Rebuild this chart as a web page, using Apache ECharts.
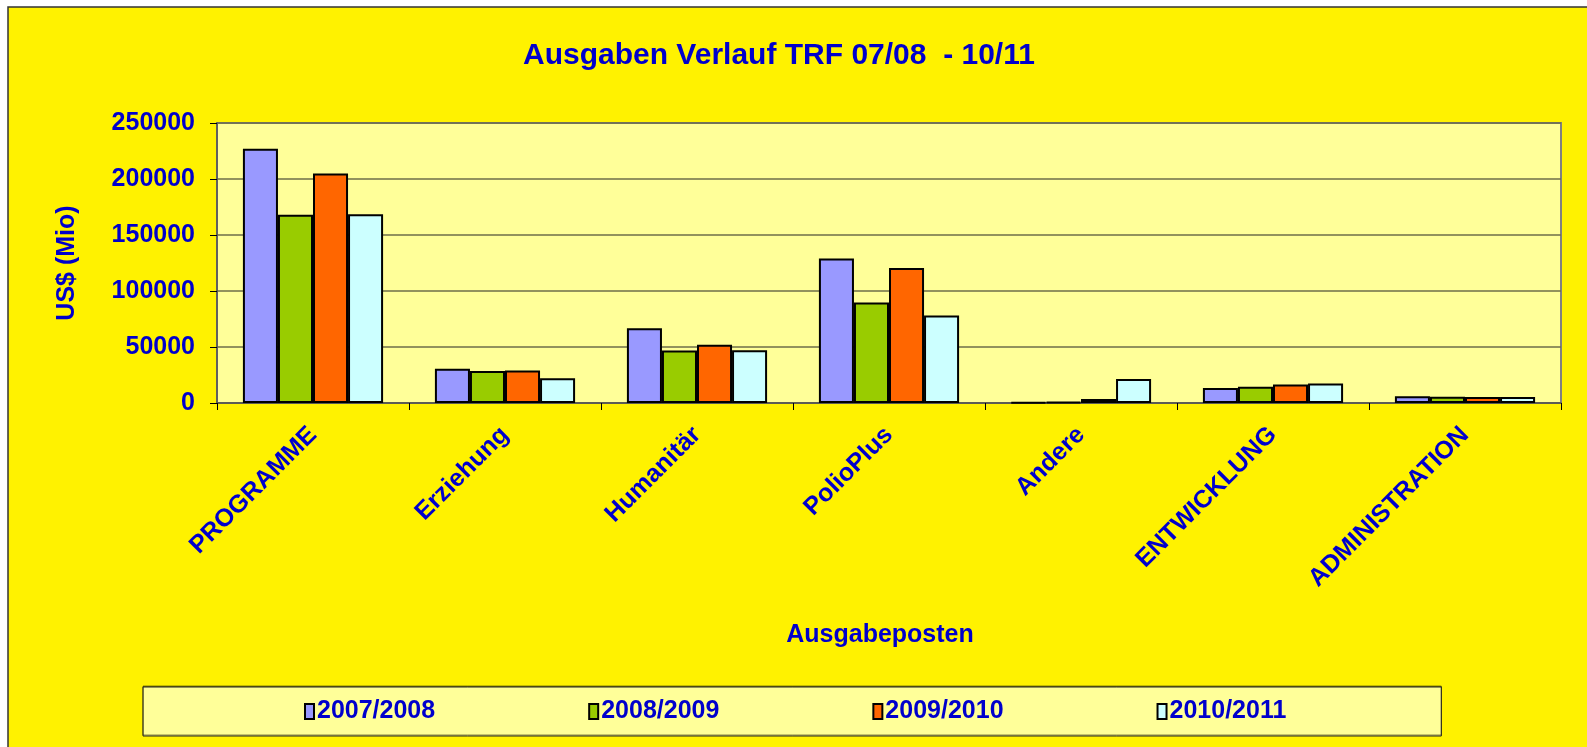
<!DOCTYPE html>
<html>
<head>
<meta charset="utf-8">
<title>Ausgaben Verlauf TRF 07/08 - 10/11</title>
<script src="https://cdn.jsdelivr.net/npm/echarts@6/dist/echarts.min.js"></script>
<style>
  html, body { margin: 0; padding: 0; background: #fff; }
  #chart { width: 1587px; height: 747px; }
</style>
</head>
<body>
<div id="chart"></div>
<script>
// Kategorien und Werte (US$ Mio)
const categories = ['PROGRAMME', 'Erziehung', 'Humanitär', 'PolioPlus', 'Andere', 'ENTWICKLUNG', 'ADMINISTRATION']
const years = ['2007/2008', '2008/2009', '2009/2010', '2010/2011']
const v2007 = [227000, 30500, 66700, 129000, 600, 13500, 6000]
const v2008 = [168000, 28500, 46800, 89700, 900, 14600, 5500]
const v2009 = [205000, 29000, 52000, 120600, 3500, 16600, 5300]
const v2010 = [168500, 22000, 47000, 78200, 21500, 17500, 5400]
const yTicks = [0, 50000, 100000, 150000, 200000, 250000]

const seriesValues = [v2007, v2008, v2009, v2010]
const barColors = ['#9999FF', '#99CC00', '#FF6600', '#CCFFFF']
const textBlue = '#0000CC'
const font = 'Liberation Sans, Arial, sans-serif'

const myChart = echarts.init(document.getElementById('chart'))

const option = {
  backgroundColor: '#fff',
  textStyle: { fontFamily: font },
  // gelber Diagrammbereich mit Rahmen
  graphic: [
    {
      type: 'rect',
      z: -10,
      shape: { x: 8, y: 7, width: 1620, height: 800 },
      style: { fill: '#FFF200', stroke: '#333', lineWidth: 1.5 }
    }
  ],
  title: {
    text: 'Ausgaben Verlauf TRF 07/08  - 10/11',
    left: 518,
    top: 36,
    textStyle: { color: textBlue, fontSize: 30, fontWeight: 'bold', fontFamily: font }
  },
  grid: {
    left: 217,
    top: 123,
    right: 26,
    bottom: 344,
    show: true,
    backgroundColor: '#FFFF99',
    borderColor: '#808080',
    borderWidth: 2
  },
  legend: {
    data: years,
    left: 143,
    top: 687,
    orient: 'horizontal',
    backgroundColor: '#FFFF99',
    borderColor: '#222',
    borderWidth: 1,
    padding: [12, 155, 12, 161],
    itemGap: 153,
    itemWidth: 9,
    itemHeight: 15,
    icon: 'rect',
    itemStyle: { borderColor: '#000', borderWidth: 2 },
    textStyle: { color: textBlue, fontSize: 25, fontWeight: 'bold', fontFamily: font, padding: [0, 0, 0, -2] },
    shadowColor: 'rgba(60,60,0,0.6)',
    shadowOffsetY: -1
  },
  xAxis: {
    type: 'category',
    data: categories,
    name: 'Ausgabeposten',
    nameLocation: 'middle',
    nameGap: 220,
    nameTextStyle: { color: textBlue, fontSize: 25, fontWeight: 'bold', fontFamily: font, padding: [0, 18, 0, 0] },
    axisLine: { lineStyle: { color: '#555', width: 1.5 } },
    axisTick: { show: true, length: 7, lineStyle: { color: '#000' } },
    axisLabel: {
      rotate: 45,
      margin: 28,
      interval: 0,
      color: textBlue,
      fontSize: 25,
      fontWeight: 'bold',
      fontFamily: font
    }
  },
  yAxis: {
    type: 'value',
    min: yTicks[0],
    max: yTicks[yTicks.length - 1],
    interval: yTicks[1] - yTicks[0],
    name: 'US$ (Mio)',
    nameLocation: 'middle',
    nameGap: 137,
    nameTextStyle: { color: textBlue, fontSize: 25, fontWeight: 'bold', fontFamily: font },
    axisLine: { show: true, lineStyle: { color: '#555', width: 1.5 } },
    axisTick: { show: true, length: 7, lineStyle: { color: '#000' } },
    axisLabel: {
      margin: 22,
      color: textBlue,
      fontSize: 25,
      fontWeight: 'bold',
      fontFamily: font,
      formatter: function (v) { return String(v) }
    },
    splitLine: { lineStyle: { color: '#6E6E4A', width: 1.5 } }
  },
  series: years.map(function (y, i) {
    return {
      name: y,
      type: 'bar',
      data: seriesValues[i],
      barGap: 0,
      barCategoryGap: '27%',
      itemStyle: {
        color: barColors[i],
        borderColor: '#000',
        borderWidth: 2
      },
      emphasis: { disabled: true }
    }
  })
}

myChart.setOption(option)
window.addEventListener('resize', function () {
  myChart.resize()
})
</script>
</body>
</html>
